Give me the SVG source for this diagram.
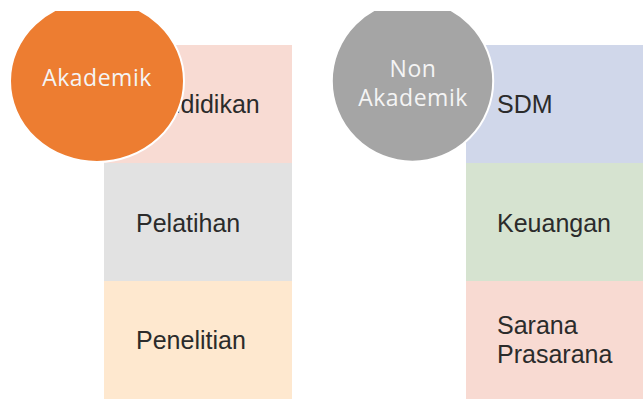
<svg xmlns="http://www.w3.org/2000/svg" width="643" height="399" viewBox="0 0 643 399">
  <defs>
    <clipPath id="topclip">
      <rect x="0" y="11" width="643" height="388"/>
    </clipPath>
    <style>
      .item { font-family: "Liberation Sans", Arial, sans-serif; font-size: 25px; fill: #2b2b2b; }
      .head { font-family: "Open Sans", "Liberation Sans", sans-serif; font-size: 23px; fill: #f4f4f4; text-anchor: middle; letter-spacing: 0.5px; }
      .circle { stroke: #ffffff; stroke-width: 2; }
    </style>
  </defs>
  <rect x="0" y="0" width="643" height="399" fill="#ffffff"/>

  <g id="pendidikan">
    <rect x="104" y="45" width="188" height="118" fill="#F8DBD3"/>
    <text class="item" x="136" y="113">Pendidikan</text>
  </g>
  <g id="pelatihan">
    <rect x="104" y="163" width="188" height="118" fill="#E2E2E2"/>
    <text class="item" x="136" y="232">Pelatihan</text>
  </g>
  <g id="penelitian">
    <rect x="104" y="281" width="188" height="118" fill="#FEE8CF"/>
    <text class="item" x="136" y="349">Penelitian</text>
  </g>

  <g id="sdm">
    <rect x="466" y="45" width="177" height="118" fill="#D0D7EA"/>
    <text class="item" x="497" y="113">SDM</text>
  </g>
  <g id="keuangan">
    <rect x="466" y="163" width="177" height="118" fill="#D6E3D0"/>
    <text class="item" x="497" y="232">Keuangan</text>
  </g>
  <g id="sarana-prasarana">
    <rect x="466" y="281" width="177" height="118" fill="#F8DAD2"/>
    <text class="item" x="497" y="334">Sarana</text>
    <text class="item" x="497" y="363">Prasarana</text>
  </g>

  <g id="akademik" clip-path="url(#topclip)">
    <ellipse class="circle" cx="97" cy="81" rx="87" ry="81" fill="#ED7D31"/>
    <text class="head" x="97" y="86">Akademik</text>
  </g>
  <g id="non-akademik" clip-path="url(#topclip)">
    <circle class="circle" cx="412.5" cy="81" r="80.7" fill="#A5A5A5"/>
    <text class="head" x="413" y="77">Non</text>
    <text class="head" x="413" y="106">Akademik</text>
  </g>

  <g id="connectors"/>
</svg>
